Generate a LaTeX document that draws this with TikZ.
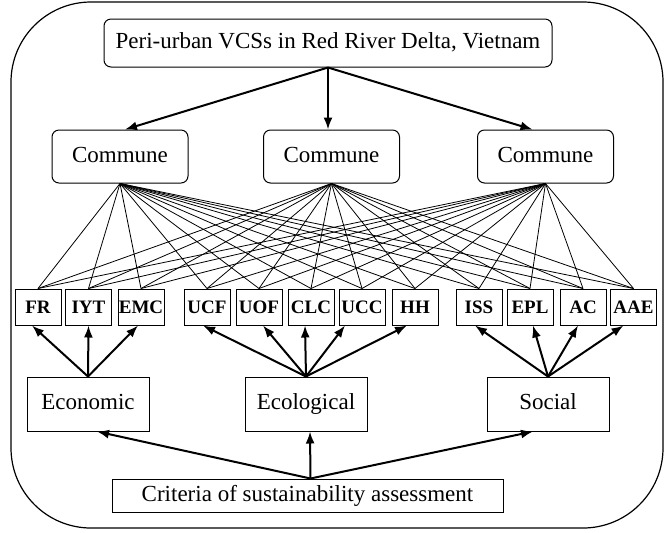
\documentclass[tikz,border=0pt]{standalone}
\usepackage{fontspec}
\setmainfont{Liberation Serif}
\usetikzlibrary{arrows.meta}

\begin{document}
\begin{tikzpicture}[x=0.5pt, y=-0.5pt,
  >={Latex[length=6pt,width=4.5pt]},
  txt/.style={font=\fontsize{11.5}{13}\selectfont, text height=8pt, text depth=2.5pt},
  rbox/.style={txt, draw, rounded corners=3.5pt, line width=0.5pt, inner sep=0pt},
  sqbox/.style={txt, draw, line width=0.5pt, inner sep=0pt},
  indic/.style={draw, line width=0.5pt, inner sep=0pt, minimum width=23pt, minimum height=18pt,
    text height=6.5pt, text depth=0pt, font=\fontsize{9.5}{11}\selectfont\bfseries},
  arr/.style={->, line width=1pt},
  fan/.style={line width=0.4pt}]
  \useasboundingbox (0,0) rectangle (669,532);
  \draw[line width=0.6pt, rounded corners=40pt] (11,2) rectangle (663,528);

  % study area and communes
  \node[rbox, minimum width=224pt, minimum height=24pt] (delta) at (328,43) {Peri-urban VCSs in Red River Delta, Vietnam};
  \node[rbox, minimum width=68pt, minimum height=26.5pt] (com1) at (120,156.5) {Commune};
  \node[rbox, minimum width=68pt, minimum height=26.5pt] (com2) at (331.5,156.5) {Commune};
  \node[rbox, minimum width=68pt, minimum height=26.5pt] (com3) at (545.5,156.5) {Commune};

  % indicators
  \node[indic] (fr)  at (38,307)    {FR};
  \node[indic] (iyt) at (88.5,307)  {IYT};
  \node[indic] (emc) at (141,307)   {EMC};
  \node[indic] (ucf) at (207,307)   {UCF};
  \node[indic] (uof) at (259,307)   {UOF};
  \node[indic] (clc) at (311,307)   {CLC};
  \node[indic] (ucc) at (362,307)   {UCC};
  \node[indic] (hh)  at (415,307)   {HH};
  \node[indic] (iss) at (479,307)   {ISS};
  \node[indic] (epl) at (530,307)   {EPL};
  \node[indic] (ac)  at (583,307)   {AC};
  \node[indic] (aae) at (633.5,307) {AAE};

  % pillars
  \node[sqbox, minimum width=61pt, minimum height=27pt] (econ) at (88,404)  {Economic};
  \node[sqbox, minimum width=61pt, minimum height=27pt] (ecol) at (306,404) {Ecological};
  \node[sqbox, minimum width=61pt, minimum height=27pt] (soc)  at (548,404) {Social};
  \node[sqbox, minimum width=195.5pt, minimum height=16.5pt] (crit) at (307.5,495.5) {Criteria of sustainability assessment};

  \draw[arr] (delta.south) -- ([xshift=2.5pt]com1.north);
  \draw[arr] (delta.south) -- (delta.south |- com2.north);
  \draw[arr] (delta.south) -- ([xshift=-6.5pt]com3.north);

  \foreach \c in {com1,com2,com3}
    \foreach \i in {fr,iyt,emc,ucf,uof,clc,ucc,hh,iss,epl,ac,aae}
      \draw[fan] (\c.south) -- (\i.north);

  \foreach \i/\s in {fr/-3, iyt/0, emc/-1.5}
    \draw[arr] (econ.north) -- ([xshift=\s pt]\i.south);
  \foreach \i/\s in {ucf/-2, uof/2, clc/-3, ucc/-8.5, hh/-4}
    \draw[arr] (ecol.north) -- ([xshift=\s pt]\i.south);
  \foreach \i/\s in {iss/-2, epl/1.5, ac/-2.5, aae/-5}
    \draw[arr] (soc.north) -- ([xshift=\s pt]\i.south);

  \draw[arr] ([xshift=1.5pt]crit.north) -- ([xshift=4.5pt]econ.south);
  \draw[arr] ([xshift=1.5pt]crit.north) -- ([xshift=2pt]ecol.south);
  \draw[arr] ([xshift=1.5pt]crit.north) -- ([xshift=-7.5pt]soc.south);
\end{tikzpicture}
\end{document}
